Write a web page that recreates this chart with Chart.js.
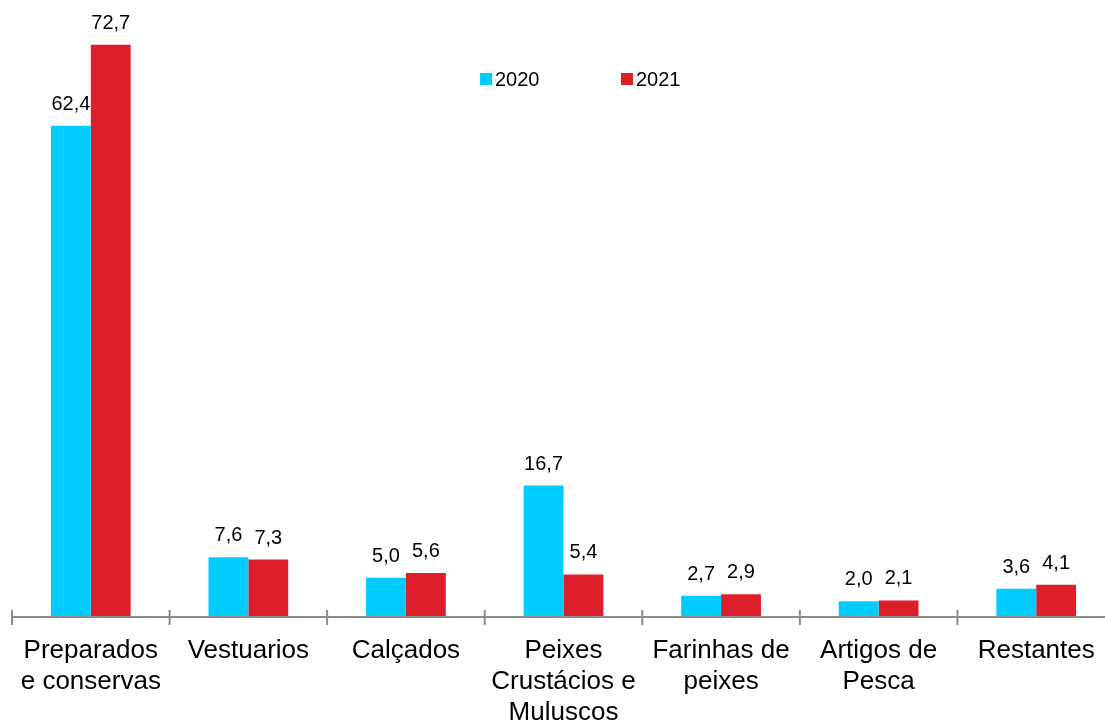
<!DOCTYPE html>
<html>
<head>
<meta charset="utf-8">
<script src="https://cdn.jsdelivr.net/npm/chart.js@4"></script>
<style>
html,body{margin:0;padding:0;background:#fff;overflow:hidden;width:1105px;height:720px;}
#wrap{position:absolute;left:0;top:0;width:1120px;height:720px;}
</style>
</head>
<body>
<div id="wrap"><canvas id="c" width="1120" height="720"></canvas></div>
<script>
const categories = [
  ["Preparados","e conservas"],
  "Vestuarios",
  "Calçados",
  ["Peixes","Crustácios e","Muluscos"],
  ["Farinhas de","peixes"],
  ["Artigos de","Pesca"],
  "Restantes"
];
const seriesNames = ["2020","2021"];
const values2020 = [62.4, 7.6, 5.0, 16.7, 2.7, 2.0, 3.6];
const values2021 = [72.7, 7.3, 5.6, 5.4, 2.9, 2.1, 4.1];
const colors = ["#00CCFF","#DC1F2B"];

const FONT = "'Liberation Sans', Arial, sans-serif";

const labelPlugin = {
  id:'valueLabels',
  afterDatasetsDraw(chart){
    const ctx = chart.ctx;
    ctx.save();
    ctx.font = "20px " + FONT;
    ctx.fillStyle = "#000";
    ctx.textAlign = "center";
    ctx.textBaseline = "alphabetic";
    chart.data.datasets.forEach((ds,di)=>{
      const meta = chart.getDatasetMeta(di);
      meta.data.forEach((bar,i)=>{
        const txt = ds.data[i].toFixed(1).replace('.',',');
        ctx.fillText(txt, bar.x, bar.y - 16);
      });
    });
    ctx.restore();
  }
};

const axisPlugin = {
  id:'axisTicks',
  afterDraw(chart){
    const ctx = chart.ctx;
    const x = chart.scales.x;
    const y0 = chart.scales.y.getPixelForValue(0);
    const n = categories.length;
    ctx.save();
    ctx.strokeStyle = "#8C8C8C";
    ctx.lineWidth = 2;
    ctx.beginPath();
    ctx.moveTo(x.left, y0);
    ctx.lineTo(x.right, y0);
    for(let i=0;i<=n;i++){
      const px = x.left + (x.right - x.left) * i / n;
      ctx.moveTo(px, y0 - 7);
      ctx.lineTo(px, y0 + 8);
    }
    ctx.stroke();
    ctx.restore();
  }
};

const legendPlugin = {
  id:'innerLegend',
  afterDraw(chart){
    const ctx = chart.ctx;
    const pos = [480, 621];
    ctx.save();
    ctx.font = "20px " + FONT;
    ctx.textBaseline = "alphabetic";
    ctx.textAlign = "left";
    chart.data.datasets.forEach((ds,i)=>{
      ctx.fillStyle = ds.backgroundColor;
      ctx.fillRect(pos[i], 73, 12, 12);
      ctx.fillStyle = "#000";
      ctx.fillText(ds.label, pos[i] + 15, 86);
    });
    ctx.restore();
  }
};

new Chart(document.getElementById('c'), {
  type:'bar',
  data:{
    labels: categories,
    datasets:[
      {label: seriesNames[0], data: values2020, backgroundColor: colors[0]},
      {label: seriesNames[1], data: values2021, backgroundColor: colors[1]}
    ]
  },
  options:{
    responsive:false,
    animation:false,
    devicePixelRatio:1,
    layout:{padding:{left:12, right:5, top:3, bottom:0}},
    datasets:{bar:{categoryPercentage:0.506, barPercentage:1.0}},
    plugins:{legend:{display:false}, tooltip:{enabled:false}},
    scales:{
      y:{display:false, min:0, max:78},
      x:{
        grid:{display:false},
        border:{display:false},
        ticks:{
          color:"#000",
          font:{family:FONT, size:26, lineHeight:1.19},
          padding:10,
          maxRotation:0, minRotation:0, autoSkip:false
        },
        afterFit(scale){ scale.height = 103; }
      }
    }
  },
  plugins:[labelPlugin, axisPlugin, legendPlugin]
});
</script>
</body>
</html>
